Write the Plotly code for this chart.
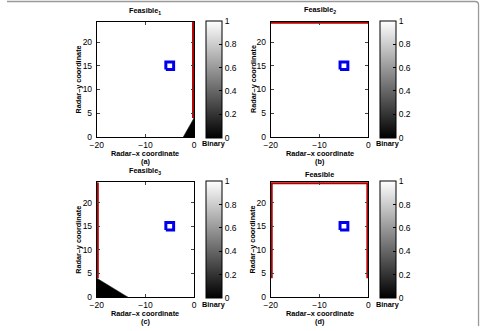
import plotly.graph_objects as go

W, H = 483, 331

# ---- data ----
x_range = [-20, 0]
y_range = [0, 24.3]
x_ticks = [-20, -10, 0]
y_ticks = [0, 5, 10, 15, 20]
cb_ticks = [0, 0.2, 0.4, 0.6, 0.8, 1]
cb_ticktext = ["0", "0.2", "0.4", "0.6", "0.8", "1"]

titles = ["Feasible<sub>1</sub>", "Feasible<sub>2</sub>", "Feasible<sub>3</sub>", "Feasible"]
sublabels = ["(a)", "(b)", "(c)", "(d)"]

# infeasible (binary 0) regions
infeasible_x = [[0, 0, -2.2, 0], None, [-20, -20, -13.6, -20], None]
infeasible_y = [[0, 4, 0, 0], None, [0, 4, 0, 0], None]

# feasible boundary (red)
boundary_x = [[0, 0], [-20, 0], [-20, -20], [-20, -20, 0, 0]]
boundary_y = [[4, 24.3], [24.3, 24.3], [4, 24.3], [4, 24.3, 24.3, 4]]

# target (blue square)
target_x = [-5.8, -4.2, -4.2, -5.8, -5.8]
target_y = [14.2, 14.2, 15.8, 15.8, 14.2]

# ---- layout geometry (pixels) ----
cols = [(91.7, 191.0), (269.3, 369.0)]
rows = [(22.0, 139.0), (185.0, 301.7)]
cb_left = [203.3, 381.3]
ytitle_x = [72.7, 251.0]
title_y = [[10.7, 10.0], [173.3, 176.7]]

FONT = "Liberation Sans, Arial, sans-serif"

def px(x):
    return x / W

def py(y):
    return 1 - y / H

fig = go.Figure()
annotations = []
layout = dict(
    width=W, height=H, margin=dict(l=0, r=0, t=0, b=0),
    paper_bgcolor="white", plot_bgcolor="white", showlegend=False,
    font=dict(family=FONT, size=8.5, color="black"),
)

for i in range(4):
    r, c = divmod(i, 2)
    n = "" if i == 0 else str(i + 1)
    xa, ya = "x" + n, "y" + n
    ca = "coloraxis" + n
    x0, x1 = cols[c]
    y0, y1 = rows[r]

    layout["xaxis" + n] = dict(
        domain=[px(x0), px(x1)], anchor=ya, range=x_range, tickvals=x_ticks,
        ticks="inside", ticklen=3, showline=True, linecolor="black", linewidth=1,
        mirror="ticks", showgrid=False, zeroline=False, tickfont=dict(size=8.5),
        ticklabelstandoff=0,
    )
    layout["yaxis" + n] = dict(
        domain=[py(y1), py(y0)], anchor=xa, range=y_range, tickvals=y_ticks,
        ticks="inside", ticklen=3, showline=True, linecolor="black", linewidth=1,
        mirror="ticks", showgrid=False, zeroline=False, tickfont=dict(size=8.5),
        ticklabelstandoff=2,
    )
    cb = dict(
        x=px(cb_left[c]), xanchor="left", xpad=0, ypad=0,
        y=py((y0 + y1) / 2), yanchor="middle",
        len=y1 - y0, lenmode="pixels", thickness=16, thicknessmode="pixels",
        outlinewidth=1, outlinecolor="black",
        ticks="inside", ticklen=3, tickcolor="black",
        tickvals=cb_ticks, ticktext=cb_ticktext, tickfont=dict(size=8.5),
    )
    layout[ca] = dict(cmin=0, cmax=1, colorscale=[[0, "black"], [1, "white"]], colorbar=cb)

    # binary map background (feasible = 1)
    fig.add_trace(go.Heatmap(
        z=[[1, 1], [1, 1]], x=x_range, y=y_range, coloraxis=ca,
        xaxis=xa, yaxis=ya, hoverinfo="skip",
    ))
    if infeasible_x[i] is not None:
        fig.add_trace(go.Scatter(
            x=infeasible_x[i], y=infeasible_y[i], mode="lines", fill="toself",
            fillcolor="black", line=dict(color="black", width=0.5),
            xaxis=xa, yaxis=ya, hoverinfo="skip",
        ))
    fig.add_trace(go.Scatter(
        x=boundary_x[i], y=boundary_y[i], mode="lines",
        line=dict(color="#b30000", width=4),
        xaxis=xa, yaxis=ya, hoverinfo="skip",
    ))
    fig.add_trace(go.Scatter(
        x=target_x, y=target_y, mode="lines",
        line=dict(color="#0000ee", width=3),
        xaxis=xa, yaxis=ya, hoverinfo="skip",
    ))

    cx = (x0 + x1) / 2
    annotations += [
        dict(text="<b>" + titles[i] + "</b>", x=px(cx), y=py(title_y[r][c]),
             xanchor="center", yanchor="middle", font=dict(size=7.3)),
        dict(text="<b>Radar–x coordinate</b>", x=px(cx), y=py(y1 + 17),
             xanchor="center", yanchor="middle", font=dict(size=7.3)),
        dict(text="<b>" + sublabels[i] + "</b>", x=px(cx), y=py(y1 + 24.8),
             xanchor="center", yanchor="middle", font=dict(size=7.3)),
        dict(text="<b>Radar–y coordinate</b>", x=px(ytitle_x[c]), y=py((y0 + y1) / 2),
             xanchor="center", yanchor="middle", textangle=-90, font=dict(size=7.3)),
        dict(text="<b>Binary</b>", x=px(cb_left[c] + 8), y=py(y1 + 7),
             xanchor="center", yanchor="middle", font=dict(size=7.3)),
    ]

for a in annotations:
    a.update(xref="paper", yref="paper", showarrow=False)
layout["annotations"] = annotations

# outer frame
layout["shapes"] = [dict(
    type="path", xref="paper", yref="paper",
    path=f"M 0,{py(1.5)} L {px(478)},{py(1.5)} Q {px(481.5)},{py(1.5)} {px(481.5)},{py(5)} L {px(481.5)},{py(331)}",
    line=dict(color="#999999", width=1.3),
)]

fig.update_layout(**layout)
fig.write_html("out.html")
